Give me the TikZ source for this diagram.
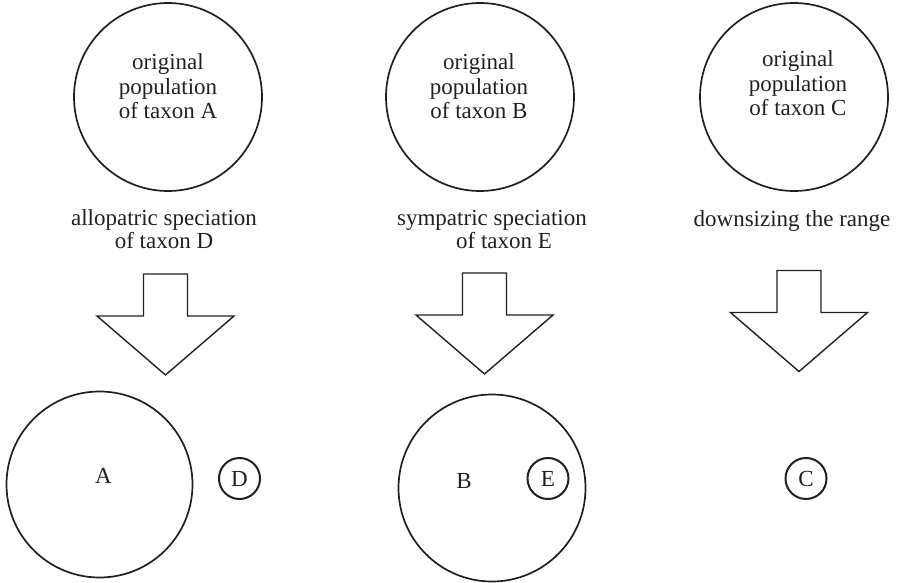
\documentclass[tikz,border=0pt]{standalone}
\usepackage{fontspec}
\setmainfont{Liberation Serif}
\definecolor{ink}{HTML}{231F20}
\begin{document}
\begin{tikzpicture}[x=1pt,y=-1pt,
  txt/.style={text=ink, inner sep=0pt, align=center, font=\fontsize{23}{24.5}\selectfont},
  lbl/.style={text=ink, inner sep=0pt, align=center, font=\fontsize{23}{23}\selectfont},
  bigcirc/.style={circle, draw=ink, line width=1.7pt, inner sep=0pt},
  smallcirc/.style={circle, draw=ink, line width=2pt, inner sep=0pt, minimum size=41pt, text=ink, font=\fontsize{23}{23}\selectfont},
  blockarrow/.style={draw=ink, line width=1.4pt, line join=miter}]
\useasboundingbox (0,0) rectangle (897,583);
% top circles
\node[bigcirc, minimum size=188pt] (topA) at (168,97) {};
\node[bigcirc, minimum size=188pt] (topB) at (480,97) {};
\node[bigcirc, minimum size=188pt] (topC) at (794,97) {};
\node[txt] (topAtext) at (168,86.6) {original\\population\\of taxon A};
\node[txt] (topBtext) at (479,86.6) {original\\population\\of taxon B};
\node[txt] (topCtext) at (798,83.6) {original\\population\\of taxon C};
% labels
\node[lbl] (labA) at (164,229.6) {allopatric speciation\\of taxon D};
\node[lbl] (labB) at (492,229.6) {sympatric speciation\\\hspace*{24pt}of taxon E};
\node[lbl, anchor=base] (labC) at (792,226) {downsizing the range};
% arrows
\coordinate (arrA) at (165.5,274);
\coordinate (arrB) at (484.5,273);
\coordinate (arrC) at (799,270.5);
\foreach \a in {arrA,arrB,arrC}{
  \draw[blockarrow] (\a) ++(-22,0) -- ++(44,0) -- ++(0,42) -- ++(46.5,0)
    -- ++(-68.5,59) -- ++(-68.5,-59) -- ++(46.5,0) -- cycle;
}
% bottom circles
\node[bigcirc, minimum size=186pt] (botA) at (99.5,484.5) {};
\node[lbl, anchor=base] (botAtext) at (103.5,483) {A};
\node[smallcirc] (D) at (239.5,478.5) {D};
\node[bigcirc, minimum size=187pt] (botB) at (492,488) {};
\node[lbl, anchor=base] (botBtext) at (464,488) {B};
\node[smallcirc] (E) at (548,478.5) {E};
\node[smallcirc] (C) at (806,478.5) {C};
\end{tikzpicture}
\end{document}
